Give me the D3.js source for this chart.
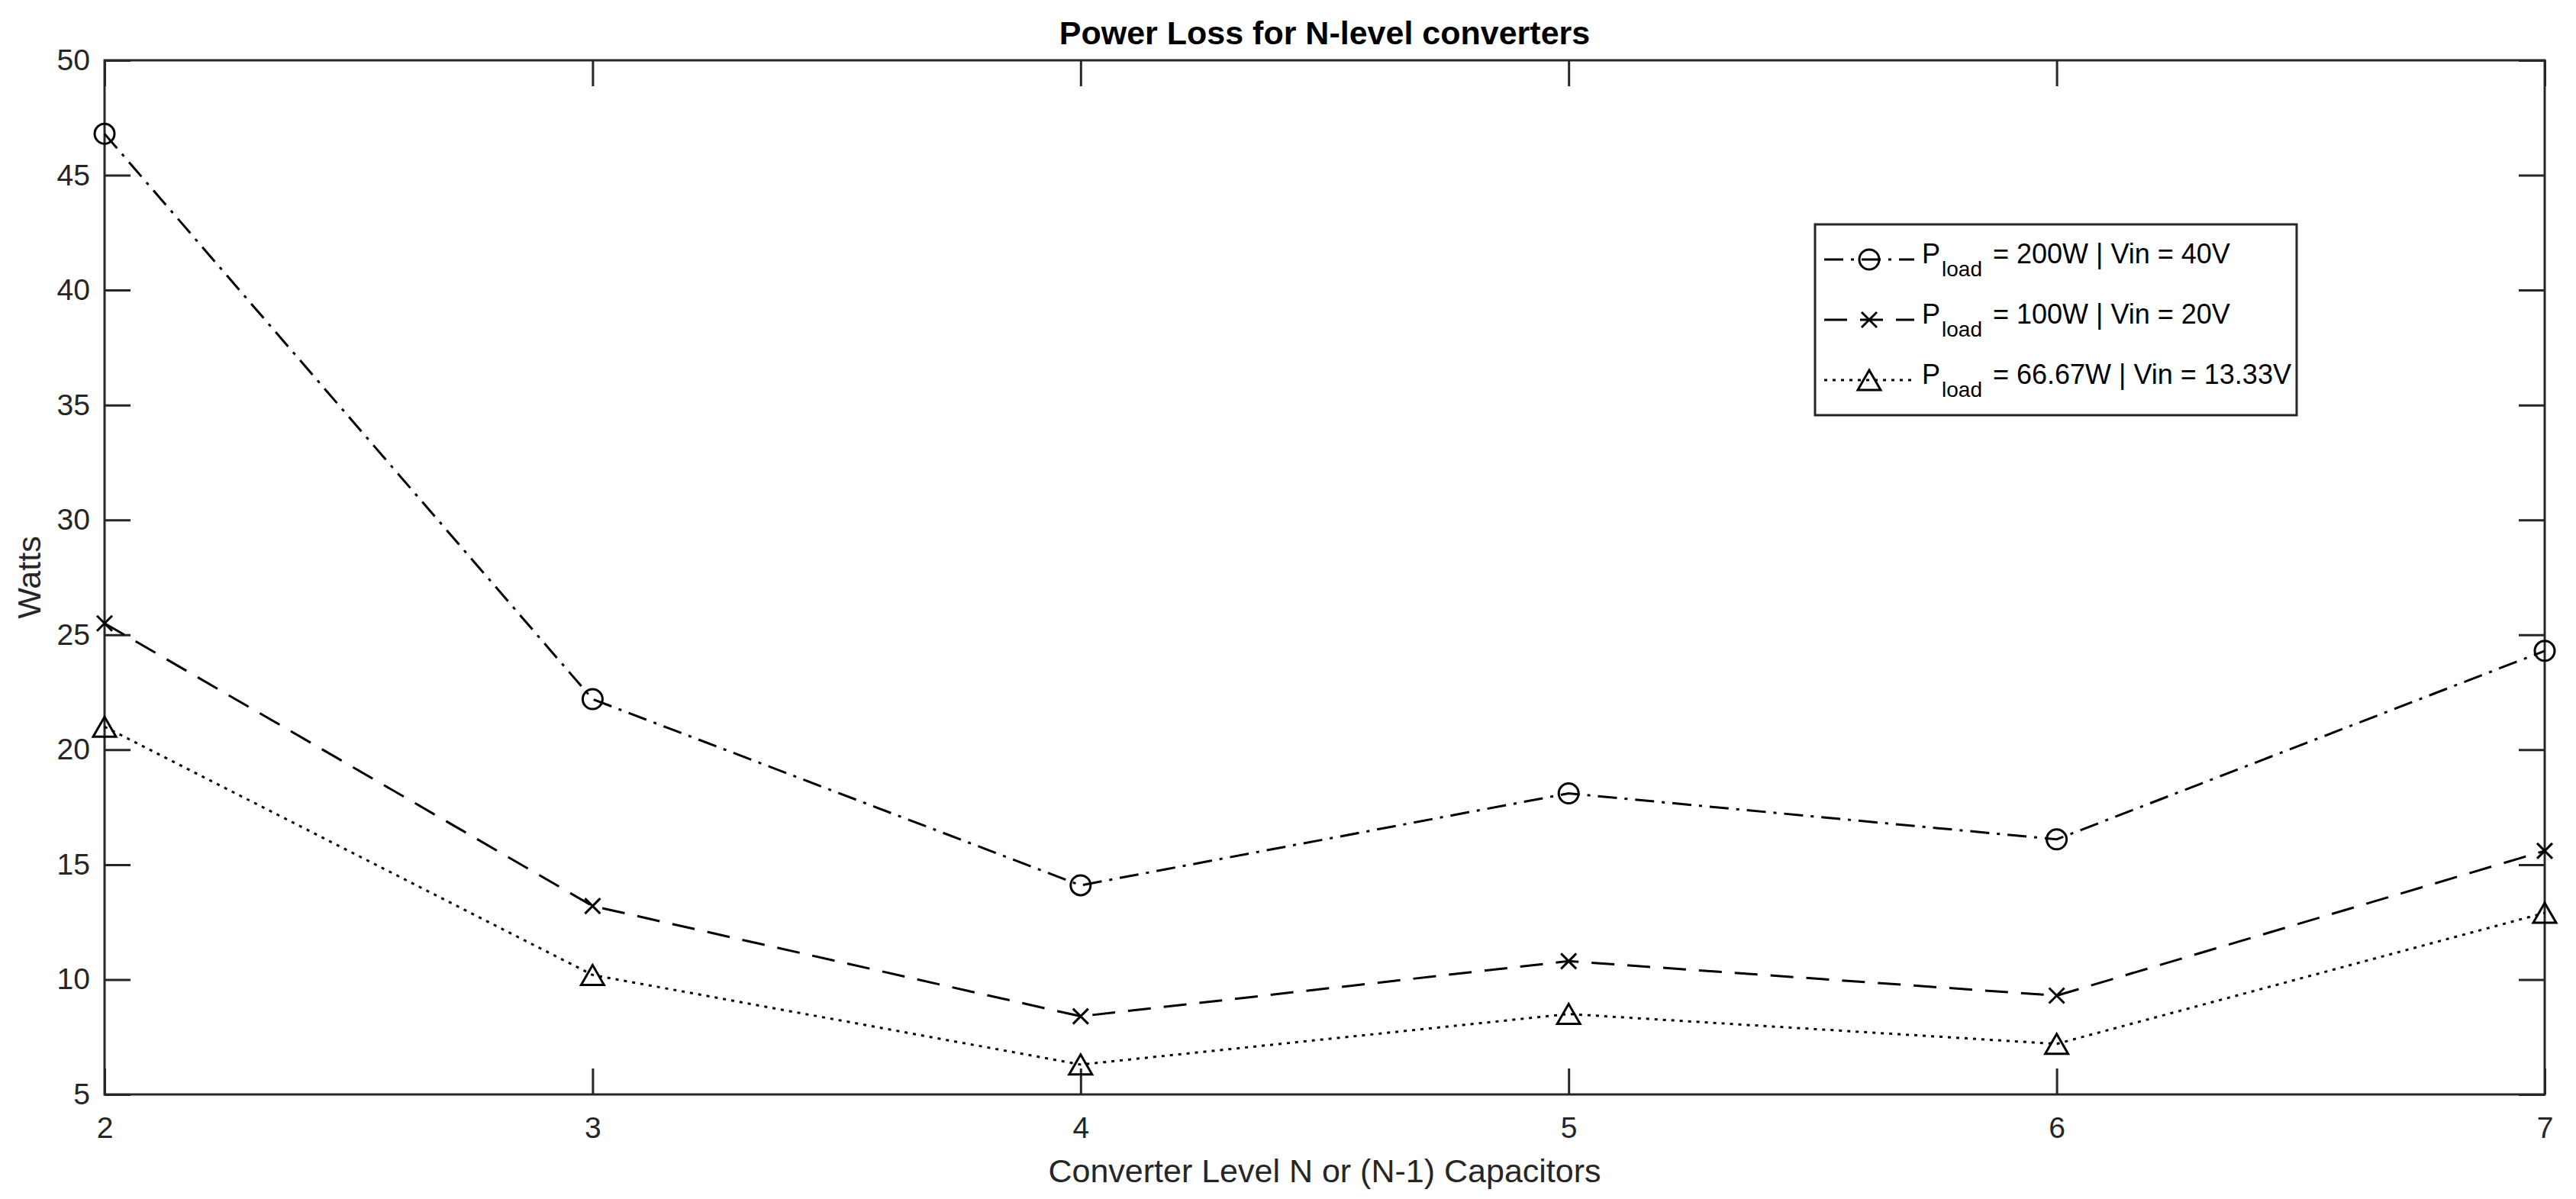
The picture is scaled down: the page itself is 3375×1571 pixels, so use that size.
<!DOCTYPE html>
<html>
<head>
<meta charset="utf-8">
<script src="https://cdn.jsdelivr.net/npm/d3@7"></script>
<style>
  html, body { margin: 0; padding: 0; background: #fff; }
  text { font-family: "Liberation Sans", Arial, Helvetica, sans-serif; }
</style>
</head>
<body>
<svg id="chart" width="3375" height="1571"></svg>
<script>
// Power loss chart -- N-level converters

var levels = [2, 3, 4, 5, 6, 7];
var loss200W = [46.8, 22.2, 14.1, 18.1, 16.1, 24.3];
var loss100W = [25.5, 13.2, 8.4, 10.8, 9.3, 15.6];
var loss66W = [21.0, 10.2, 6.3, 8.5, 7.2, 12.9];

var xTicks = [2, 3, 4, 5, 6, 7];
var yTicks = [5, 10, 15, 20, 25, 30, 35, 40, 45, 50];

var legendValues = [
  " = 200W | Vin = 40V",
  " = 100W | Vin = 20V",
  " = 66.67W | Vin = 13.33V"
];

var titleText = "Power Loss for N-level converters";
var xLabelText = "Converter Level N or (N-1) Capacitors";
var yLabelText = "Watts";

///////////////////////////////////////////////////////////////////////////////
// Layout

var svg = d3.select("#chart"),
    plotLeft = 137, plotRight = 3334, plotTop = 79, plotBottom = 1434,
    axisColor = "#262626",
    tickLen = 34;

var x = d3.scaleLinear().domain([2, 7]).range([plotLeft, plotRight]);
var y = d3.scaleLinear().domain([5, 50]).range([plotBottom, plotTop]);

var series = [
  {values: loss200W, dash: "25,10,4,10", marker: "circle", label: legendValues[0]},
  {values: loss100W, dash: "30,17", marker: "cross", label: legendValues[1]},
  {values: loss66W, dash: "4,7", marker: "triangle", label: legendValues[2]}
];

///////////////////////////////////////////////////////////////////////////////
// Axes

var styleAxis = function (g) {
  g.select(".domain").remove();
  g.selectAll(".tick line").attr("stroke", axisColor).attr("stroke-width", 3);
  g.selectAll(".tick text")
    .attr("fill", axisColor)
    .style("font-size", "39px");
};

svg.append("g")
  .attr("transform", "translate(0," + plotBottom + ")")
  .call(d3.axisBottom(x).tickValues(xTicks).tickSize(-tickLen).tickPadding(29)
        .tickFormat(d3.format("d")))
  .call(styleAxis);

svg.append("g")
  .attr("transform", "translate(0," + plotTop + ")")
  .call(d3.axisTop(x).tickValues(xTicks).tickSize(-tickLen).tickFormat(""))
  .call(styleAxis);

svg.append("g")
  .attr("transform", "translate(" + plotLeft + ",0)")
  .call(d3.axisLeft(y).tickValues(yTicks).tickSize(-tickLen).tickPadding(19)
        .tickFormat(d3.format("d")))
  .call(styleAxis);

svg.append("g")
  .attr("transform", "translate(" + plotRight + ",0)")
  .call(d3.axisRight(y).tickValues(yTicks).tickSize(-tickLen).tickFormat(""))
  .call(styleAxis);

svg.append("rect")
  .attr("x", plotLeft).attr("y", plotTop)
  .attr("width", plotRight - plotLeft).attr("height", plotBottom - plotTop)
  .attr("fill", "none")
  .attr("stroke", axisColor)
  .attr("stroke-width", 3);

///////////////////////////////////////////////////////////////////////////////
// Markers

var drawMarker = function (g, type, cx, cy) {
  if (type === "circle") {
    g.append("circle").attr("cx", cx).attr("cy", cy).attr("r", 13)
      .attr("fill", "none").attr("stroke", "#000").attr("stroke-width", 3);
  } else if (type === "cross") {
    var s = 10;
    g.append("path")
      .attr("d", "M" + (cx - s) + "," + (cy - s) + "L" + (cx + s) + "," + (cy + s) +
                 "M" + (cx - s) + "," + (cy + s) + "L" + (cx + s) + "," + (cy - s))
      .attr("stroke", "#000").attr("stroke-width", 3);
  } else {
    var w = 15, h = 26;
    g.append("path")
      .attr("d", "M" + cx + "," + (cy - h / 2) + "L" + (cx + w) + "," + (cy + h / 2) +
                 "L" + (cx - w) + "," + (cy + h / 2) + "Z")
      .attr("fill", "none").attr("stroke", "#000").attr("stroke-width", 3)
      .attr("stroke-linejoin", "miter");
  }
};

///////////////////////////////////////////////////////////////////////////////
// Lines

var line = d3.line()
  .x(function (d, i) { return x(levels[i]); })
  .y(function (d) { return y(d); });

series.forEach(function (s) {
  var g = svg.append("g");
  g.append("path")
    .datum(s.values)
    .attr("d", line)
    .attr("fill", "none")
    .attr("stroke", "#000")
    .attr("stroke-width", 3)
    .attr("stroke-dasharray", s.dash);
  s.values.forEach(function (v, i) {
    drawMarker(g, s.marker, x(levels[i]), y(v));
  });
});

///////////////////////////////////////////////////////////////////////////////
// Legend

var legend = svg.append("g");
legend.append("rect")
  .attr("x", 2378).attr("y", 294)
  .attr("width", 631).attr("height", 250)
  .attr("fill", "#fff")
  .attr("stroke", axisColor)
  .attr("stroke-width", 3);

series.forEach(function (s, i) {
  var ly = 340 + i * 79;
  legend.append("line")
    .attr("x1", 2390).attr("x2", 2508)
    .attr("y1", ly).attr("y2", ly)
    .attr("stroke", "#000").attr("stroke-width", 3)
    .attr("stroke-dasharray", s.dash);
  drawMarker(legend, s.marker, 2449, ly);

  var t = legend.append("text")
    .attr("x", 2518).attr("y", ly + 5)
    .attr("fill", "#000")
    .style("font-size", "36px");
  t.append("tspan").text("P");
  t.append("tspan").attr("dy", 17).attr("dx", 2).style("font-size", "28px").text("load");
  t.append("tspan").attr("dy", -17).attr("dx", 4).text(s.label);
});

///////////////////////////////////////////////////////////////////////////////
// Titles

svg.append("text")
  .attr("x", (plotLeft + plotRight) / 2).attr("y", 58)
  .attr("text-anchor", "middle")
  .attr("fill", "#000")
  .style("font-size", "43px")
  .style("font-weight", "bold")
  .text(titleText);

svg.append("text")
  .attr("x", (plotLeft + plotRight) / 2).attr("y", 1549)
  .attr("text-anchor", "middle")
  .attr("fill", axisColor)
  .style("font-size", "43px")
  .text(xLabelText);

svg.append("text")
  .attr("transform", "translate(53," + ((plotTop + plotBottom) / 2) + ") rotate(-90)")
  .attr("text-anchor", "middle")
  .attr("fill", axisColor)
  .style("font-size", "43px")
  .text(yLabelText);
</script>
</body>
</html>
